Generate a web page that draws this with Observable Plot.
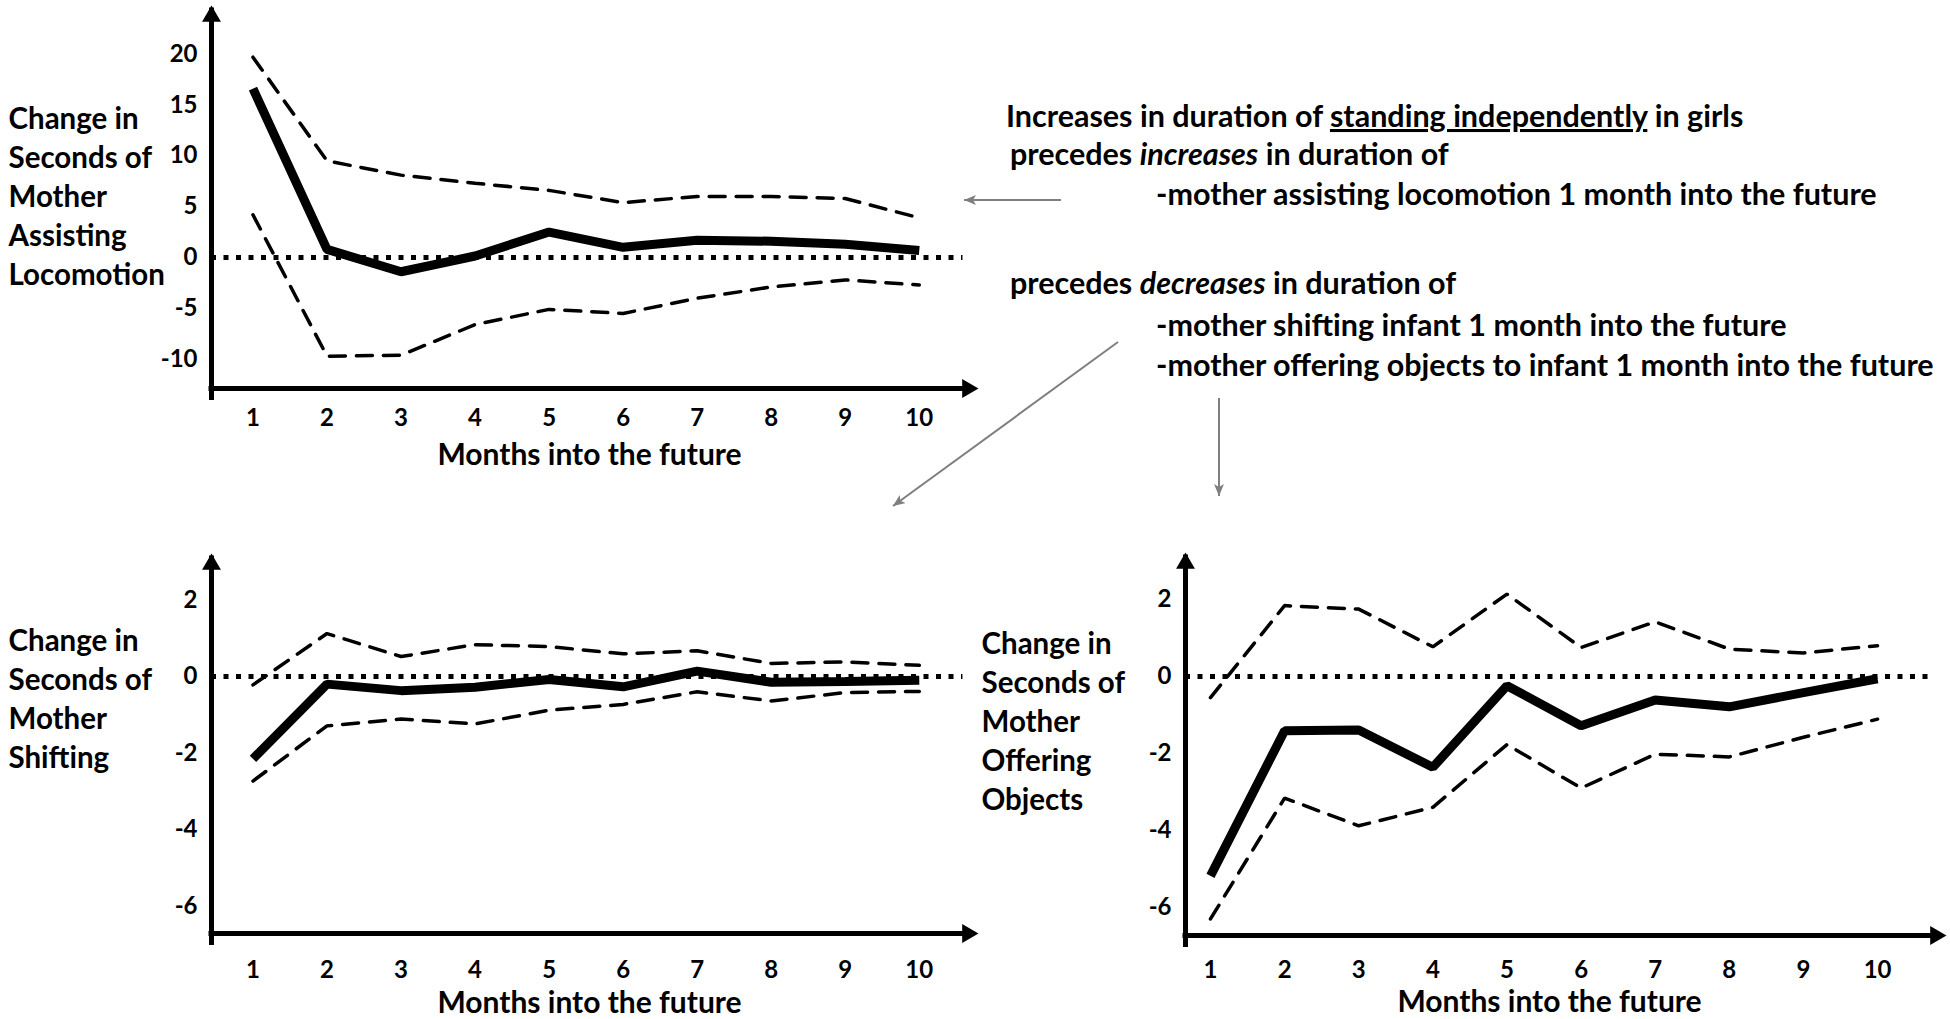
<!DOCTYPE html>
<html>
<head>
<meta charset="utf-8">
<script src="https://cdn.jsdelivr.net/npm/d3@7"></script>
<script src="https://cdn.jsdelivr.net/npm/@observablehq/plot@0.6"></script>
<style>
  html, body { margin: 0; padding: 0; background: #fff; }
  #page { position: relative; width: 1950px; height: 1019px; overflow: hidden; background: #fff; }
  .panel { position: absolute; }
  .panel svg { max-width: none; overflow: visible; }
  #overlay { position: absolute; left: 0; top: 0; pointer-events: none; }
</style>
</head>
<body>
<div id="page">
  <div class="panel" id="p1" style="left:0px;top:0px"></div>
  <div class="panel" id="p2" style="left:0px;top:520px"></div>
  <div class="panel" id="p3" style="left:960px;top:520px"></div>
  <svg id="overlay" width="1950" height="1019"></svg>
</div>
<script>
// ---------- data ----------
const months = [1, 2, 3, 4, 5, 6, 7, 8, 9, 10];

const assistEstimate = [16.6, 0.8, -1.4, 0.15, 2.5, 1.0, 1.7, 1.6, 1.3, 0.7];
const assistUpper    = [19.7, 9.5, 8.1, 7.3, 6.6, 5.4, 6.0, 6.0, 5.8, 3.9];
const assistLower    = [4.2, -9.7, -9.6, -6.6, -5.1, -5.5, -4.0, -2.9, -2.2, -2.7];

const shiftEstimate  = [-2.15, -0.2, -0.37, -0.28, -0.08, -0.27, 0.14, -0.15, -0.13, -0.1];
const shiftUpper     = [-0.22, 1.12, 0.52, 0.83, 0.78, 0.59, 0.67, 0.34, 0.38, 0.29];
const shiftLower     = [-2.73, -1.29, -1.11, -1.24, -0.88, -0.73, -0.4, -0.64, -0.42, -0.39];

const offerEstimate  = [-5.18, -1.41, -1.39, -2.36, -0.24, -1.28, -0.61, -0.79, -0.42, -0.06];
const offerUpper     = [-0.55, 1.84, 1.75, 0.77, 2.14, 0.75, 1.42, 0.71, 0.61, 0.80];
const offerLower     = [-6.30, -3.16, -3.88, -3.40, -1.77, -2.90, -2.02, -2.09, -1.58, -1.11];

const assistTicks = [20, 15, 10, 5, 0, -5, -10];
const smallTicks  = [2, 0, -2, -4, -6];

const assistLabel = "Change in\nSeconds of\nMother\nAssisting\nLocomotion";
const shiftLabel  = "Change in\nSeconds of\nMother\nShifting";
const offerLabel  = "Change in\nSeconds of\nMother\nOffering\nObjects";
const xTitle = "Months into the future";

// ---------- panel builder ----------
const FONT = "Lato, 'Open Sans', sans-serif";
function panel(o) {
  const rows = months.map((m, i) => ({month: m, est: o.est[i], upper: o.upper[i], lower: o.lower[i]}));
  const [x0, x1] = o.xDomain, [y0, y1] = o.yDomain;
  return Plot.plot({
    width: o.width, height: o.height,
    marginLeft: o.ml, marginRight: o.mr, marginTop: o.mt, marginBottom: o.mb,
    x: {domain: o.xDomain, label: null},
    y: {domain: o.yDomain, label: null},
    style: {fontFamily: FONT, fontWeight: "bold", color: "#000", background: "transparent", overflow: "visible", maxWidth: "none"},
    marks: [
      Plot.ruleY([0], {x1: x0, x2: o.zeroEnd, stroke: "#000", strokeWidth: 5, strokeDasharray: "5,7.5"}),
      Plot.line(rows, {x: "month", y: "upper", stroke: "#000", strokeWidth: 3.5, strokeDasharray: "16,11", strokeLinejoin: "miter"}),
      Plot.line(rows, {x: "month", y: "lower", stroke: "#000", strokeWidth: 3.5, strokeDasharray: "16,11", strokeLinejoin: "miter"}),
      Plot.line(rows, {x: "month", y: "est", stroke: "#000", strokeWidth: 9, strokeLinejoin: "miter", strokeLinecap: "butt"}),
      Plot.ruleX([x0], {y1: y0, y2: y1, stroke: "#000", strokeWidth: 5, insetTop: 12, insetBottom: -2.5}),
      Plot.ruleY([y0], {x1: x0, x2: x1, stroke: "#000", strokeWidth: 5, insetRight: 12, insetLeft: -2.5}),
      Plot.dot([{x: x0, y: y1}], {x: "x", y: "y", symbol: "triangle", r: 7, fill: "#000", dy: 10.9}),
      Plot.dot([{x: x1, y: y0}], {x: "x", y: "y", symbol: "triangle", r: 7, fill: "#000", rotate: 90, dx: -10.9}),
      Plot.axisY({ticks: o.yTicks, tickSize: 0, tickPadding: 14, tickFormat: d => String(d), fontSize: 24, label: null}),
      Plot.axisX({ticks: months, tickSize: 0, tickPadding: o.tickPad, tickFormat: d => String(d), fontSize: 24, label: null}),
      Plot.text([o.yLabel], {text: d => d, frameAnchor: "left", textAnchor: "start", lineAnchor: "middle",
        dx: o.labelDx, dy: o.labelDy, fontSize: 29.5, lineHeight: 39 / 29.5, fill: "#000"}),
      Plot.text([xTitle], {text: d => d, frameAnchor: "bottom", lineAnchor: "middle",
        dx: o.titleDx, dy: o.titleDy, fontSize: 30, fill: "#000"})
    ]
  });
}

document.getElementById("p1").append(panel({
  est: assistEstimate, upper: assistUpper, lower: assistLower, yTicks: assistTicks, yLabel: assistLabel,
  width: 1000, height: 480, ml: 211, mr: 22, mt: 5, mb: 92,
  xDomain: [0.44, 10.8], yDomain: [-12.88, 24.78], zeroEnd: 10.59,
  labelDx: -203, labelDy: -2, titleDx: -5.5, titleDy: 67, tickPad: 20
}));
document.getElementById("p2").append(panel({
  est: shiftEstimate, upper: shiftUpper, lower: shiftLower, yTicks: smallTicks, yLabel: shiftLabel,
  width: 1000, height: 499, ml: 211, mr: 22, mt: 33, mb: 86,
  xDomain: [0.44, 10.8], yDomain: [-6.71, 3.21], zeroEnd: 10.59,
  labelDx: -203, labelDy: -46, titleDx: -5.5, titleDy: 70, tickPad: 27
}));
document.getElementById("p3").append(panel({
  est: offerEstimate, upper: offerUpper, lower: offerLower, yTicks: smallTicks, yLabel: offerLabel,
  width: 990, height: 499, ml: 225, mr: 4, mt: 32, mb: 84,
  xDomain: [0.663, 10.93], yDomain: [-6.73, 3.22], zeroEnd: 10.72,
  labelDx: -204, labelDy: -24, titleDx: -16.5, titleDy: 67, tickPad: 25
}));

// ---------- annotation overlay ----------
const ov = d3.select("#overlay");
const defs = ov.append("defs");
defs.append("marker").attr("id", "ah").attr("viewBox", "0 0 12 10").attr("refX", 12).attr("refY", 5)
  .attr("markerWidth", 12).attr("markerHeight", 10).attr("markerUnits", "userSpaceOnUse").attr("orient", "auto")
  .append("path").attr("d", "M0,0 L12,5 L0,10 L3,5 Z").attr("fill", "#7f7f7f");

const arrows = [
  [1061, 200, 964, 200],
  [1118, 342, 893, 506],
  [1219, 398, 1219, 496]
];
ov.selectAll("line.arr").data(arrows).join("line").attr("class", "arr")
  .attr("x1", d => d[0]).attr("y1", d => d[1]).attr("x2", d => d[2]).attr("y2", d => d[3])
  .attr("stroke", "#7f7f7f").attr("stroke-width", 2).attr("marker-end", "url(#ah)");

const annFont = 30.5;
const annLines = [
  {x: 1006, y: 127, parts: [["Increases in duration of ", ""], ["standing independently", "u"], [" in girls", ""]]},
  {x: 1010, y: 165, parts: [["precedes ", ""], ["increases", "i"], [" in duration of", ""]]},
  {x: 1156, y: 205, parts: [["-mother assisting locomotion 1 month into the future", ""]]},
  {x: 1010, y: 294, parts: [["precedes ", ""], ["decreases", "i"], [" in duration of", ""]]},
  {x: 1156, y: 336, parts: [["-mother shifting infant 1 month into the future", ""]]},
  {x: 1156, y: 376, parts: [["-mother offering objects to infant 1 month into the future", ""]]}
];
annLines.forEach(l => {
  const t = ov.append("text").attr("x", l.x).attr("y", l.y).attr("font-family", FONT)
    .attr("font-weight", "bold").attr("font-size", annFont).attr("fill", "#000").attr("xml:space", "preserve");
  l.parts.forEach(([s, f]) => {
    const ts = t.append("tspan").text(s);
    if (f === "i") ts.attr("font-style", "italic");
    if (f === "u") ts.attr("text-decoration", "underline");
  });
});
</script>
</body>
</html>
